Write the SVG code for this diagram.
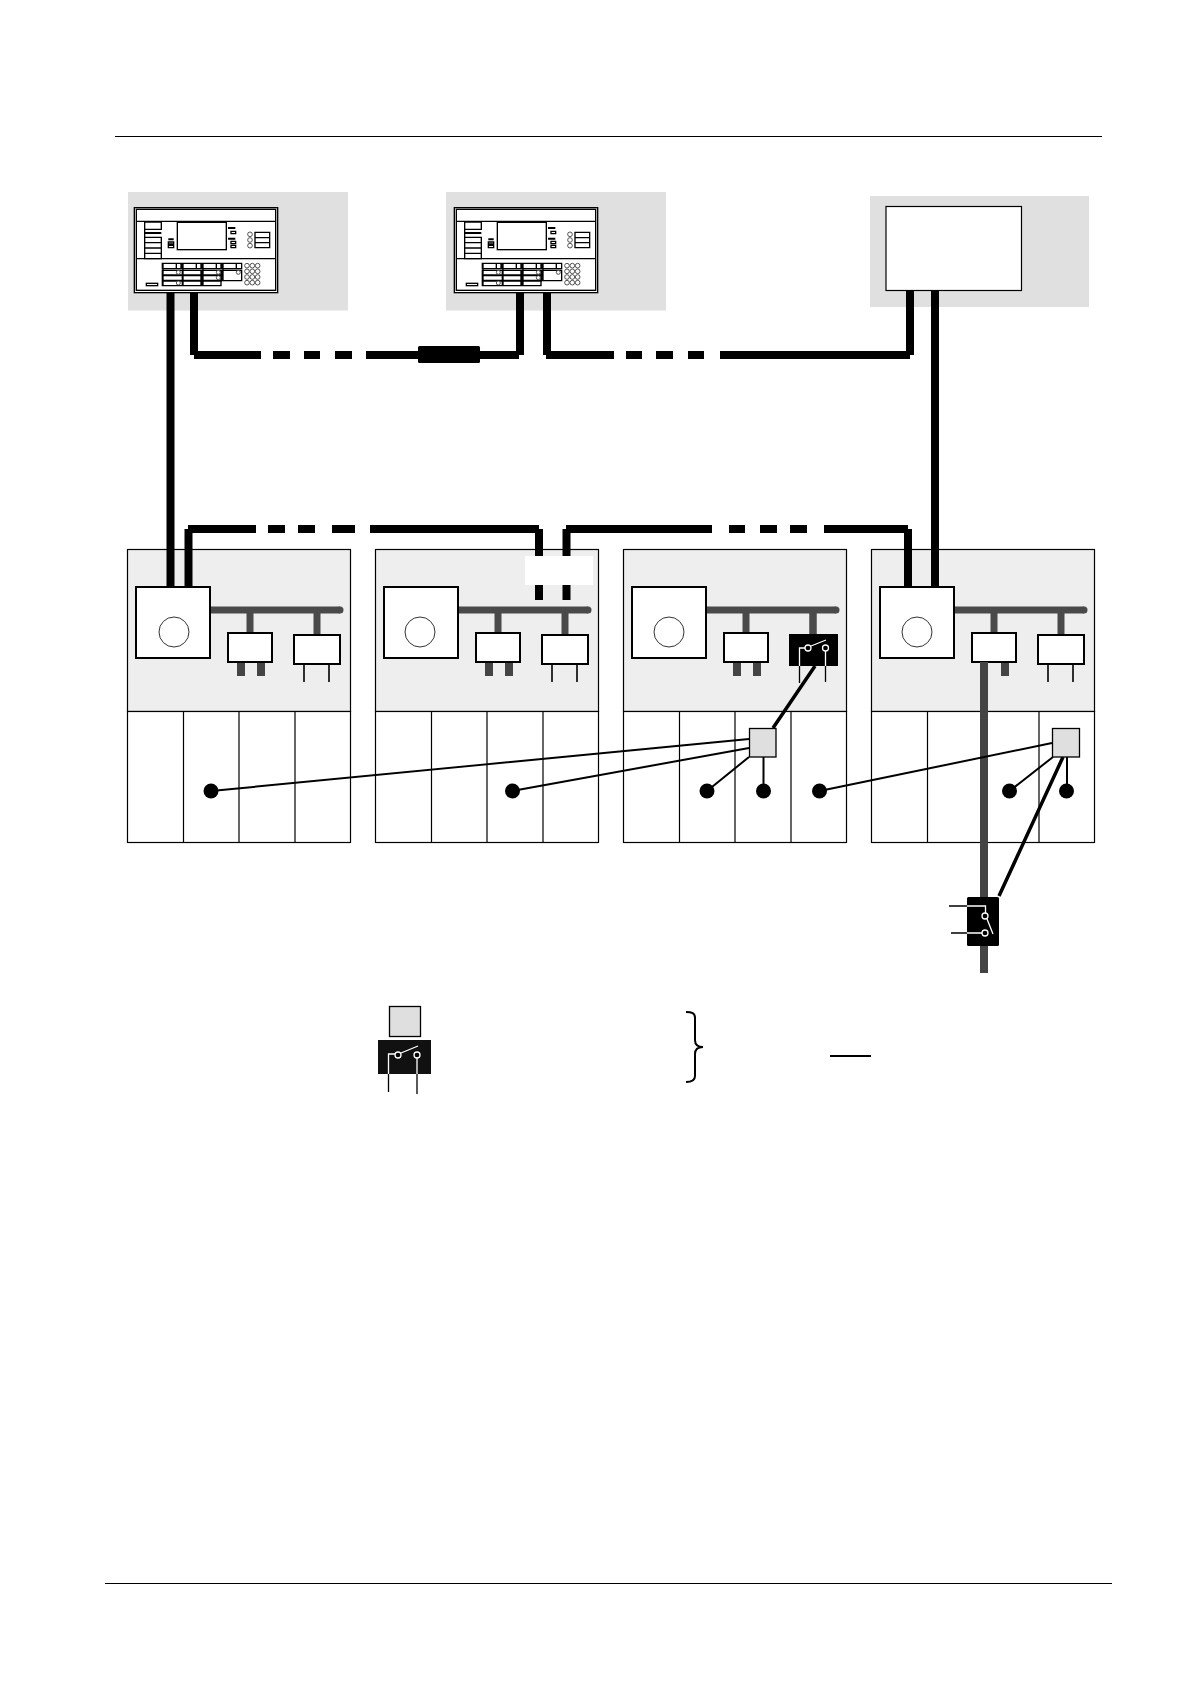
<svg xmlns="http://www.w3.org/2000/svg" width="1190" height="1684" viewBox="0 0 1190 1684">
<style>
.panel{fill:#e0e0e0}
.rack{fill:#eeeeee;stroke:#000;stroke-width:1.2}
.cell{fill:#fff;stroke:#000;stroke-width:1.2}
.box{fill:#fff;stroke:#000;stroke-width:2}
.bus{stroke:#4a4a4a;stroke-width:7;fill:none}
.pin{stroke:#444;stroke-width:8;fill:none}
.wire{stroke:#000;stroke-width:1.6;fill:none}
.thick{stroke:#000;stroke-width:8;fill:none}
.link{stroke:#000;stroke-width:2;fill:none}
.link3{stroke:#000;stroke-width:3.5;fill:none}
.gray{fill:#dfdfdf;stroke:#000;stroke-width:1.3}
.sw{fill:#000}
.swl{stroke:#fff;stroke-width:1.3;fill:none}
.swc{fill:#000;stroke:#fff;stroke-width:1.3}
.d{fill:#fff;stroke:#000;stroke-width:4}
.dl{fill:none;stroke:#000;stroke-width:4}
.db{fill:none;stroke:#000;stroke-width:6}
.dc{fill:#fff;stroke:#333;stroke-width:2.500}
</style>
<defs>
<g id="device" transform="scale(.3333)">
<rect x="43" y="83" width="430" height="255" class="d"/>
<rect x="49" y="88" width="418" height="243" class="d"/>
<path d="M49 124H467M49 236H467" class="dl"/>
<rect x="172" y="127" width="147" height="82" class="d"/>
<path d="M74 126H124V148H74ZM74 126V236H124V172H74M74 188H124M74 204H124M74 220H124" class="dl"/>
<path d="M74 159H124" class="db"/>
<path d="M145 178H161M324 144H346M324 176H346" class="db"/>
<path d="M145 186H161V192H145ZM145 196H161V203H145ZM333 154H347V161H333ZM333 184H347V191H333ZM333 196H347V203H333Z" class="dl"/>
<path d="M405 157H449V203H405ZM405 173H449M405 188H449" class="dl"/>
<circle cx="390" cy="163" r="7" class="dc"/><circle cx="390" cy="180" r="7" class="dc"/><circle cx="390" cy="197" r="7" class="dc"/>
<path d="M127 250H183V266H127ZM187 250H243V266H187ZM247 250H303V266H247ZM307 250H365V266H307ZM127 271H243V317H127ZM187 271V317M247 271H303V317H247ZM307 271H365V302H307ZM169 250V266M229 250V266M289 250V266M349 250V266" class="dl"/>
<path d="M127 286H305M127 302H305" class="db"/>
<path d="M129 250V317M189 250V317M249 250V317M309 250V302" class="dl" stroke-width="5"/>
<circle cx="175" cy="277" r="6" class="dc"/><circle cx="295" cy="277" r="6" class="dc"/><circle cx="355" cy="277" r="6" class="dc"/><circle cx="295" cy="293" r="6" class="dc"/><circle cx="175" cy="309" r="6" class="dc"/>
<circle cx="381" cy="257" r="7" class="dc"/><circle cx="397" cy="257" r="7" class="dc"/><circle cx="413" cy="257" r="7" class="dc"/><circle cx="381" cy="274" r="7" class="dc"/><circle cx="397" cy="274" r="7" class="dc"/><circle cx="413" cy="274" r="7" class="dc"/><circle cx="381" cy="291" r="7" class="dc"/><circle cx="397" cy="291" r="7" class="dc"/><circle cx="413" cy="291" r="7" class="dc"/><circle cx="381" cy="308" r="7" class="dc"/><circle cx="397" cy="308" r="7" class="dc"/><circle cx="413" cy="308" r="7" class="dc"/>
<rect x="79" y="310" width="34" height="7" class="d"/>
</g>
<g id="unit">
<rect x="127.5" y="549.5" width="223" height="162" class="rack"/>
<rect x="127.5" y="711.5" width="223" height="131" class="cell"/>
<path d="M183.5 711.5V842.5M239 711.5V842.5M295 711.5V842.5" stroke="#000" stroke-width="1.2" fill="none"/>
<path d="M210 610H340" class="bus"/>
<circle cx="340" cy="610" r="3.5" fill="#4a4a4a"/>
<rect x="136" y="587" width="74" height="71" class="box"/>
<path d="M250 610V633M317 610V635" class="bus"/>
</g>
<g id="pinsA"><path d="M241 662V676M261 662V676" class="pin"/><rect x="228" y="633" width="44" height="29" class="box"/></g>
<g id="pinsB"><path d="M304 664V682M329 664V682" class="wire"/><rect x="294" y="635" width="46" height="29" class="box"/></g>
<circle id="ring" cx="174" cy="632" r="15" fill="#fff" stroke="#333" stroke-width="1"/>
</defs>

<path d="M115 136.500H1102M105 1583.500H1112" stroke="#000" stroke-width="1"/>

<g id="panel-1"><rect x="128" y="192" width="220" height="118.500" class="panel"/><use href="#device" x="120" y="180"/></g>
<g id="panel-2"><rect x="446" y="192" width="220" height="118.500" class="panel"/><use href="#device" x="440" y="180"/></g>
<g id="panel-3"><rect x="870" y="196" width="219" height="111" class="panel"/><rect x="886" y="206.500" width="135.500" height="84" fill="#fff" stroke="#000" stroke-width="1.2"/></g>

<g id="unit-1"><use href="#unit"/><use href="#ring"/><use href="#pinsA"/><use href="#pinsB"/></g>
<g id="unit-2"><use href="#unit" x="248"/><use href="#ring" x="246"/><use href="#pinsA" x="248"/><use href="#pinsB" x="248"/></g>
<g id="unit-3"><use href="#unit" x="496"/><use href="#ring" x="495"/><use href="#pinsA" x="496"/>
<path d="M813 610V634" class="bus"/>
<rect x="789" y="634" width="49" height="32" class="sw"/>
<path d="M799.500 666V648H805M811 646L826 640M825.500 651V666" class="swl"/>
<path d="M799.500 666V683M825.500 666V682" stroke="#000" stroke-width="1.300"/>
<circle cx="808" cy="648" r="3" class="swc"/><circle cx="825.500" cy="648" r="3" class="swc"/></g>
<g id="unit-4"><use href="#unit" x="744"/><use href="#ring" x="743"/><use href="#pinsB" x="744"/>
<path d="M1005 662V676" class="pin"/><rect x="972" y="633" width="44" height="29" class="box"/></g>

<g id="connectors">
<path d="M170.500 293V587M935 290V587" class="thick"/>
<path d="M194 293V355M194 355H261M273 355H290M304 355H320M335 355H352M366 355H519M520 355V293" class="thick"/>
<rect x="418" y="346" width="62" height="17" rx="1.500" fill="#000"/>
<path d="M547 293V355M546 355H614M626 355H642M656 355H673M688 355H704M720 355H910M910 355V290" class="thick"/>
<path d="M188.500 587V529M188 529H256M268 529H285M298 529H315M332 529H355M370 529H539M539 529V600" class="thick"/>
<path d="M566.500 600V529M566 529H712M729 529H745M760 529H777M790 529H807M824 529H908M908 529V587" class="thick"/>
<path d="M984 662V973" stroke="#444" stroke-width="8" fill="none"/>
<path d="M211 791L749 739M512 791L749 748M707 791L749 757M763.500 791V757M819.500 791L1052 743M1009.500 791L1053 757M1067 791V757" class="link"/>
<path d="M773 728L815 666M1063 757L999 896" class="link3"/>
<g fill="#000"><circle cx="211" cy="791" r="7.500"/><circle cx="512.500" cy="791" r="7.500"/><circle cx="707" cy="791" r="7.500"/><circle cx="763.500" cy="791" r="7.500"/><circle cx="819.500" cy="791" r="7.500"/><circle cx="1009.500" cy="791" r="7.500"/><circle cx="1066.500" cy="791" r="7.500"/></g>
</g>
<rect id="label-gap" x="525" y="556" width="68" height="29" fill="#fff"/>

<g id="relay-3"><rect x="749.500" y="728.500" width="26.500" height="28.500" class="gray"/></g>
<g id="relay-4"><rect x="1052.500" y="728.500" width="27" height="28.500" class="gray"/></g>
<g id="switch-4"><rect x="967" y="897" width="32" height="49" rx="1.500" class="sw"/>
<path d="M967 906H985.500V913M967 933H982M987 919L993 934" class="swl"/><path d="M949 906H967M951 933H967" stroke="#000" stroke-width="1.300"/>
<circle cx="985" cy="916" r="3" class="swc"/><circle cx="985" cy="933" r="3" class="swc"/></g>

<g id="legend-relay"><rect x="389.500" y="1006.500" width="31" height="30" class="gray"/></g>
<g id="legend-switch"><rect x="378" y="1040" width="53" height="34" fill="#111"/>
<path d="M388.500 1074V1054H395M401 1053L418 1046M417 1058V1074" class="swl"/>
<path d="M388.500 1074V1092M417 1074V1094" stroke="#000" stroke-width="1.300"/>
<circle cx="398" cy="1055" r="3" class="swc"/><circle cx="417" cy="1055" r="3" class="swc"/></g>
<path id="legend-brace" d="M686 1012C692 1012 695 1013 695 1018V1040C695 1045 698 1047 703 1047C698 1047 695 1049 695 1054V1076C695 1080 692 1082 686 1082" fill="none" stroke="#000" stroke-width="2"/>
<path id="legend-line" d="M830 1056H871" stroke="#000" stroke-width="2"/>
</svg>
